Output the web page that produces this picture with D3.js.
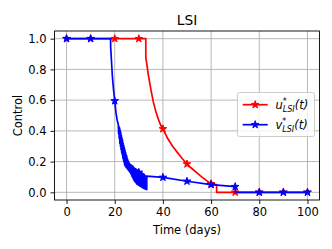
<!DOCTYPE html>
<html lang="en">
<head>
<meta charset="UTF-8">
<title>LSI</title>
<script src="https://cdn.jsdelivr.net/npm/d3@7"></script>
<style>
    body { margin: 0; background: #fff; }
    text { font-family: "DejaVu Sans", sans-serif; fill: #000; }
</style>
</head>
<body>
<script>
    // u*_LSI(t) : [time, control]
    const uData = [
        [0, 1], [10, 1], [20, 1], [30, 1], [32.9, 1], [32.9, 0.88],
        [34, 0.76], [35, 0.67], [36, 0.59], [37, 0.53], [38, 0.48], [39, 0.44], [40, 0.413],
        [42, 0.35], [44, 0.30], [46, 0.26], [48, 0.22], [50, 0.184],
        [52, 0.155], [54, 0.128], [56, 0.102], [58, 0.078], [60, 0.056],
        [62.3, 0.05], [62.3, 0], [70, 0], [80, 0], [90, 0], [100, 0]
    ];
    // v*_LSI(t) : [time, control], chattering between 21.5 and 33.3
    const vData = [
        [0, 1], [10, 1], [18.3, 1], [18.3, 0.95], [19, 0.76], [19.5, 0.67], [20, 0.595],
        [20.5, 0.52], [21, 0.47],
        [21.5, 0.44], [21.625, 0.38], [21.75, 0.43], [21.875, 0.35], [22, 0.42], [22.125, 0.32],
        [22.25, 0.405], [22.375, 0.30], [22.5, 0.39], [22.625, 0.28], [22.75, 0.37], [22.875, 0.26],
        [23, 0.355], [23.125, 0.245], [23.25, 0.34], [23.375, 0.225], [23.5, 0.32], [23.625, 0.21],
        [23.75, 0.305], [23.875, 0.195], [24, 0.29], [24.125, 0.18], [24.25, 0.275], [24.375, 0.172],
        [24.5, 0.26], [24.625, 0.165], [24.75, 0.245], [24.875, 0.16], [25, 0.235], [25.125, 0.155],
        [25.25, 0.22], [25.375, 0.15], [25.5, 0.21], [25.625, 0.145], [25.75, 0.2], [25.875, 0.14],
        [26, 0.19], [26.125, 0.135], [26.25, 0.185], [26.375, 0.13], [26.5, 0.18], [26.625, 0.125],
        [26.75, 0.178], [26.875, 0.115], [27, 0.175], [27.125, 0.105], [27.25, 0.172], [27.375, 0.098],
        [27.5, 0.17], [27.625, 0.09], [27.75, 0.165], [27.875, 0.082], [28, 0.16], [28.125, 0.075],
        [28.25, 0.158], [28.375, 0.07], [28.5, 0.155], [28.625, 0.065], [28.75, 0.152], [28.875, 0.06],
        [29, 0.15], [29.125, 0.055], [29.25, 0.147], [29.375, 0.052], [29.5, 0.145], [29.625, 0.05],
        [29.75, 0.142], [29.875, 0.047], [30, 0.13], [30.125, 0.045], [30.25, 0.137], [30.375, 0.042],
        [30.5, 0.135], [30.625, 0.04], [30.75, 0.132], [30.875, 0.037], [31, 0.13], [31.125, 0.035],
        [31.25, 0.127], [31.375, 0.032], [31.5, 0.125], [31.625, 0.03], [31.75, 0.122], [31.875, 0.027],
        [32, 0.12], [32.125, 0.025], [32.25, 0.115], [32.375, 0.023], [32.5, 0.11], [32.625, 0.022],
        [32.75, 0.107], [32.875, 0.02], [33, 0.105], [33.125, 0.019], [33.3, 0.018],
        [33.3, 0.105], [40, 0.097], [50, 0.072], [60, 0.05],
        [70, 0.037], [70.2, 0], [80, 0], [90, 0], [100, 0]
    ];
    const xTicks = [0, 20, 40, 60, 80, 100];
    const yTicks = [0, 0.2, 0.4, 0.6, 0.8, 1.0];
    const markTimes = [0, 10, 20, 30, 40, 50, 60, 70, 80, 90, 100];

    const width = 332, height = 249;
    const m = { left: 54.5, right: 319.5, top: 31, bottom: 200 };
    const fs = 11.5;

    const svg = d3.select("body").append("svg").attr("width", width).attr("height", height);

    const x = d3.scaleLinear().domain([-5, 105]).range([m.left, m.right]);
    const y = d3.scaleLinear().domain([-0.05, 1.05]).range([m.bottom, m.top]);

    // grid
    svg.append("g").selectAll("line").data(xTicks).join("line")
        .attr("x1", d => x(d)).attr("x2", d => x(d)).attr("y1", m.top).attr("y2", m.bottom)
        .attr("stroke", "#b0b0b0").attr("stroke-width", 0.9);
    svg.append("g").selectAll("line").data(yTicks).join("line")
        .attr("y1", d => y(d)).attr("y2", d => y(d)).attr("x1", m.left).attr("x2", m.right)
        .attr("stroke", "#b0b0b0").attr("stroke-width", 0.9);

    const line = d3.line().x(d => x(d[0])).y(d => y(d[1]));
    const star = d3.symbol().type(d3.symbolStar).size(18);

    const drawSeries = (data, color) => {
        svg.append("path").datum(data).attr("d", line)
            .attr("fill", "none").attr("stroke", color).attr("stroke-width", 1.7)
            .attr("stroke-linejoin", "round");
        const marks = markTimes.map(t => data.find(d => d[0] === t));
        svg.append("g").selectAll("path").data(marks).join("path")
            .attr("d", star)
            .attr("transform", d => `translate(${x(d[0])},${y(d[1])})`)
            .attr("fill", color).attr("stroke", color).attr("stroke-width", 1);
    };
    drawSeries(uData, "#ff0000");
    drawSeries(vData, "#0000ff");

    // axes
    const xAxis = svg.append("g").attr("transform", `translate(0,${m.bottom})`)
        .call(d3.axisBottom(x).tickValues(xTicks).tickSize(4).tickPadding(4).tickFormat(d3.format("d")));
    const yAxis = svg.append("g").attr("transform", `translate(${m.left},0)`)
        .call(d3.axisLeft(y).tickValues(yTicks).tickSize(4).tickPadding(4).tickFormat(d3.format(".1f")));
    [xAxis, yAxis].forEach(a => {
        a.select(".domain").remove();
        a.selectAll("line").attr("stroke", "#000").attr("stroke-width", 0.9);
        a.selectAll("text").attr("font-size", fs).attr("font-family", "DejaVu Sans").attr("fill", "#000");
    });

    // frame
    svg.append("rect").attr("x", m.left).attr("y", m.top)
        .attr("width", m.right - m.left).attr("height", m.bottom - m.top)
        .attr("fill", "none").attr("stroke", "#000").attr("stroke-width", 0.9);

    // labels
    svg.append("text").attr("x", (m.left + m.right) / 2).attr("y", 25)
        .attr("text-anchor", "middle").attr("font-size", 13.8).text("LSI");
    svg.append("text").attr("x", (m.left + m.right) / 2).attr("y", 233.5)
        .attr("text-anchor", "middle").attr("font-size", fs).text("Time (days)");
    svg.append("text").attr("transform", `translate(21.5,${(m.top + m.bottom) / 2}) rotate(-90)`)
        .attr("text-anchor", "middle").attr("font-size", fs).text("Control");

    // legend
    const legend = svg.append("g");
    legend.append("rect").attr("x", 237.5).attr("y", 92.5).attr("width", 77).attr("height", 44)
        .attr("rx", 2).attr("fill", "#fff").attr("fill-opacity", 0.8)
        .attr("stroke", "#cccccc").attr("stroke-width", 1);
    const entries = [["u", "#ff0000", 104.7], ["v", "#0000ff", 124.7]];
    entries.forEach(([name, color, ly]) => {
        legend.append("line").attr("x1", 242.7).attr("x2", 267.7).attr("y1", ly).attr("y2", ly)
            .attr("stroke", color).attr("stroke-width", 1.7);
        legend.append("path").attr("d", star).attr("transform", `translate(255.2,${ly})`)
            .attr("fill", color).attr("stroke", color);
        const t = legend.append("text").attr("x", 275.5).attr("y", ly + 4)
            .attr("font-size", fs).attr("font-style", "italic");
        t.append("tspan").text(name);
        t.append("tspan").attr("font-size", 8).attr("dy", -4.5).attr("font-style", "normal").text("*");
        t.append("tspan").attr("font-size", 8).attr("dx", -4).attr("dy", 7.5).text("LSI");
        t.append("tspan").attr("dy", -3).text("(t)");
    });
</script>
</body>
</html>
